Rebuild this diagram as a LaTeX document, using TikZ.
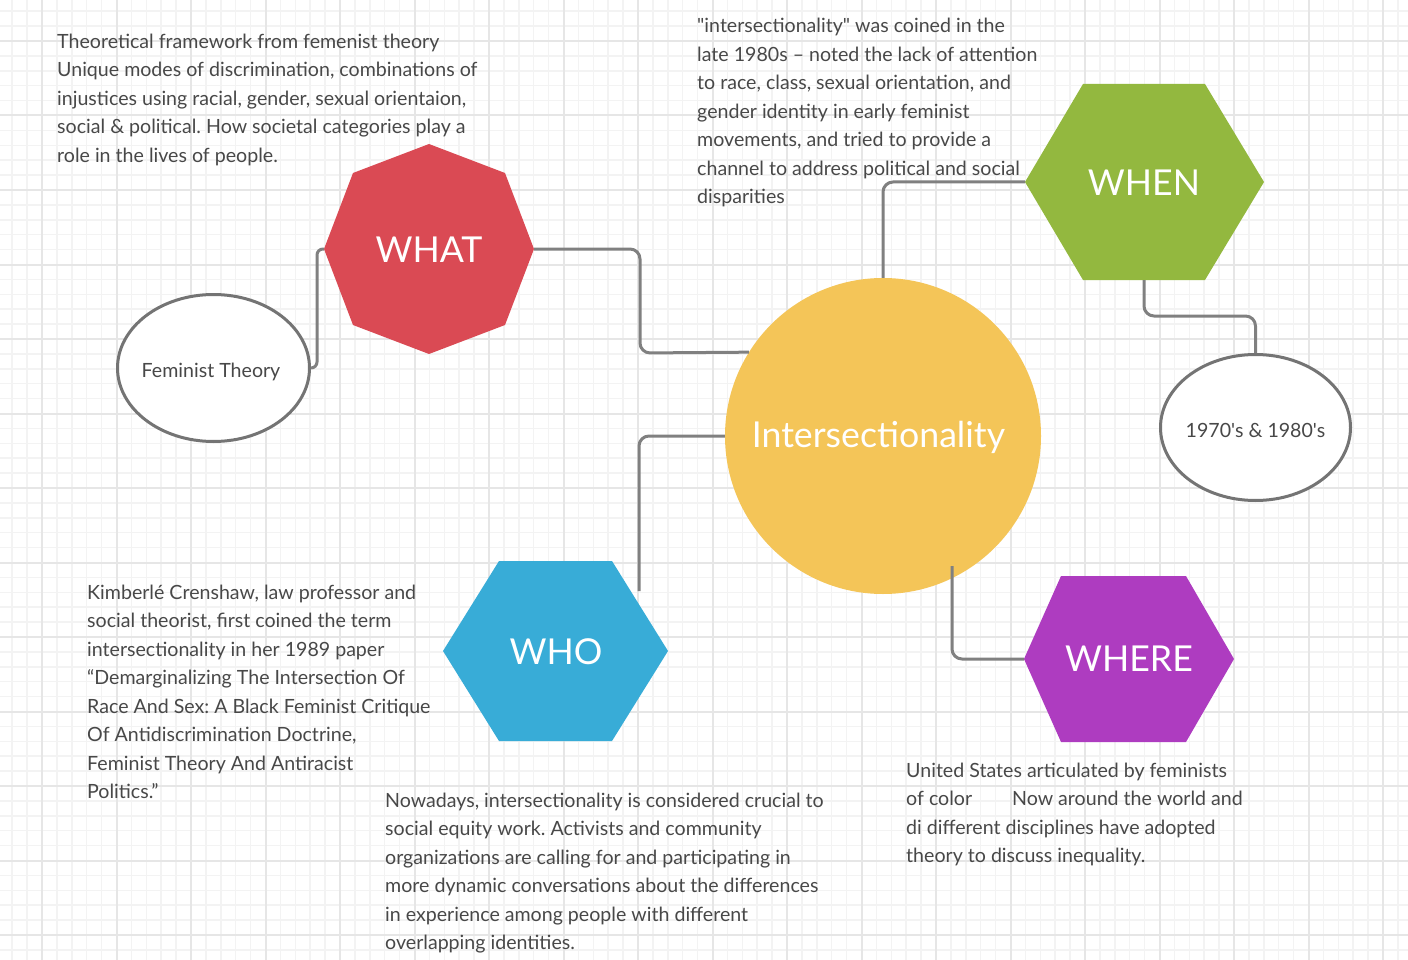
\documentclass[tikz,border=0pt]{standalone}
\usepackage{fontspec}
\setmainfont{Lato}[Ligatures=TeXOff]
\frenchspacing
\usetikzlibrary{shapes.geometric}
\definecolor{gridminor}{HTML}{F3F3F3}
\definecolor{gridmajor}{HTML}{E6E6E6}
\definecolor{txtgray}{HTML}{484848}
\definecolor{conngray}{HTML}{808080}
\definecolor{ovalgray}{HTML}{747474}
\definecolor{whatred}{HTML}{DA4A54}
\definecolor{whengreen}{HTML}{93B83F}
\definecolor{whoblue}{HTML}{38ACD7}
\definecolor{wherepurple}{HTML}{AE3CC0}
\definecolor{intyellow}{HTML}{F4C558}
\begin{document}
\begin{tikzpicture}[x=1pt,y=-1pt,
  conn/.style={draw=conngray, line width=3pt, rounded corners=10pt},
  desc/.style={anchor=north west, inner sep=0pt, align=left, text=txtgray,
    font=\fontsize{19.6}{28.45}\selectfont},
  biglabel/.style={text=white, inner sep=0pt, font=\fontsize{35.7}{42}\selectfont},
  oval/.style={ellipse, draw=ovalgray, line width=3pt, fill=white, inner sep=0pt,
    text=txtgray, font=\fontsize{19.6}{22}\selectfont}]
\useasboundingbox (0,0) rectangle (1408,960);
\fill[white] (0,0) rectangle (1408,960);
% grid
\foreach \i in {-2,...,92} {
  \draw[gridminor, line width=1.5pt] ({42+14.9*\i},0) -- ({42+14.9*\i},960);
}
\foreach \j in {-2,...,63} {
  \draw[gridminor, line width=1.5pt] (0,{41+14.9*\j}) -- (1408,{41+14.9*\j});
}
\foreach \i in {0,...,18} {
  \draw[gridmajor, line width=2pt] ({42+74.5*\i},0) -- ({42+74.5*\i},960);
}
\foreach \j in {0,...,12} {
  \draw[gridmajor, line width=2pt] (0,{41+74.5*\j}) -- (1408,{41+74.5*\j});
}

% central circle
\node[circle, fill=intyellow, minimum size=316pt, inner sep=0pt] (int) at (883,436) {};
\node[biglabel] (intlabel) at (878.5,437) {Intersectionality};

% WHAT octagon
\fill[whatred] (429,144) -- (505,173) -- (534,249) -- (505,325) -- (429,354) -- (353,325) -- (324,249) -- (353,173) -- cycle;
\node[biglabel] (what) at (429,250) {WHAT};
\coordinate (what-e) at (534,249);
\coordinate (what-w) at (324,249);

% WHEN hexagon
\fill[whengreen] (1083,84) -- (1205,84) -- (1264,182) -- (1205,280) -- (1083,280) -- (1025,182) -- cycle;
\node[biglabel] (when) at (1144,183) {WHEN};
\coordinate (when-w) at (1025,182);
\coordinate (when-s) at (1144,280);

% WHO hexagon
\fill[whoblue] (499,561) -- (612,561) -- (668,651) -- (612,741) -- (499,741) -- (443,651) -- cycle;
\node[biglabel] (who) at (556,652) {WHO};
\coordinate (who-end) at (639,591);

% WHERE hexagon
\fill[wherepurple] (1061,576) -- (1186,576) -- (1234,659) -- (1186,742) -- (1061,742) -- (1024,659) -- cycle;
\node[biglabel] (where) at (1129,659) {WHERE};
\coordinate (where-w) at (1024,659);
\coordinate (int-se) at (952,566);

% ovals
\node[oval, minimum width=192pt, minimum height=147pt] (fem) at (213.5,368) {\makebox[0pt]{\raisebox{-9pt}[0pt][0pt]{Feminist Theory}\hspace*{5pt}}};
\node[oval, minimum width=190pt, minimum height=146pt] (years) at (1255.5,427.5) {\makebox[0pt]{\raisebox{-10pt}[0pt][0pt]{1970's \& 1980's}}};

% connectors
\draw[conn] (what-e) -- (640,249) -- (640,353) -- (int.148.3);
\draw[conn, rounded corners=6pt] (what-w) -- (317,249) -- (317,368) -- (fem.east);
\draw[conn] (int.north) -- (883,182) -- (when-w);
\draw[conn] (when-s) -- (1144,316) -- (1255.5,316) -- (years.north);
\draw[conn] (int.west) -- (639,436) -- (who-end);
\draw[conn] (int-se) -- (952,659) -- (where-w);

% description texts
\node[desc] (whattext) at (57,28.4) {\strut Theoretical framework from femenist theory\\
Unique modes of discrimination, combinations of\\
injustices using racial, gender, sexual orientaion,\\
social \& political. How societal categories play a\\
role in the lives of people.};

\node[desc] (whentext) at (697,12.8) {\strut "intersectionality" was coined in the\\
late 1980s – noted the lack of attention\\
to race, class, sexual orientation, and\\
gender identity in early feminist\\
movements, and tried to provide a\\
channel to address political and social\\
disparities};

\node[desc] (whotext) at (87,579.4) {\strut Kimberlé Crenshaw, law professor and\\
social theorist, first coined the term\\
intersectionality in her 1989 paper\\
“Demarginalizing The Intersection Of\\
Race And Sex: A Black Feminist Critique\\
Of Antidiscrimination Doctrine,\\
Feminist Theory And Antiracist\\
Politics.”};

\node[desc] (nowtext) at (385,787.4) {\strut Nowadays, intersectionality is considered crucial to\\
social equity work. Activists and community\\
organizations are calling for and participating in\\
more dynamic conversations about the differences\\
in experience among people with different\\
overlapping identities.};

\node[desc] (wheretext) at (906,757.4) {\strut United States articulated by feminists\\
of color\hspace*{40pt}Now around the world and\\
di different disciplines have adopted\\
theory to discuss inequality.};
\end{tikzpicture}
\end{document}
